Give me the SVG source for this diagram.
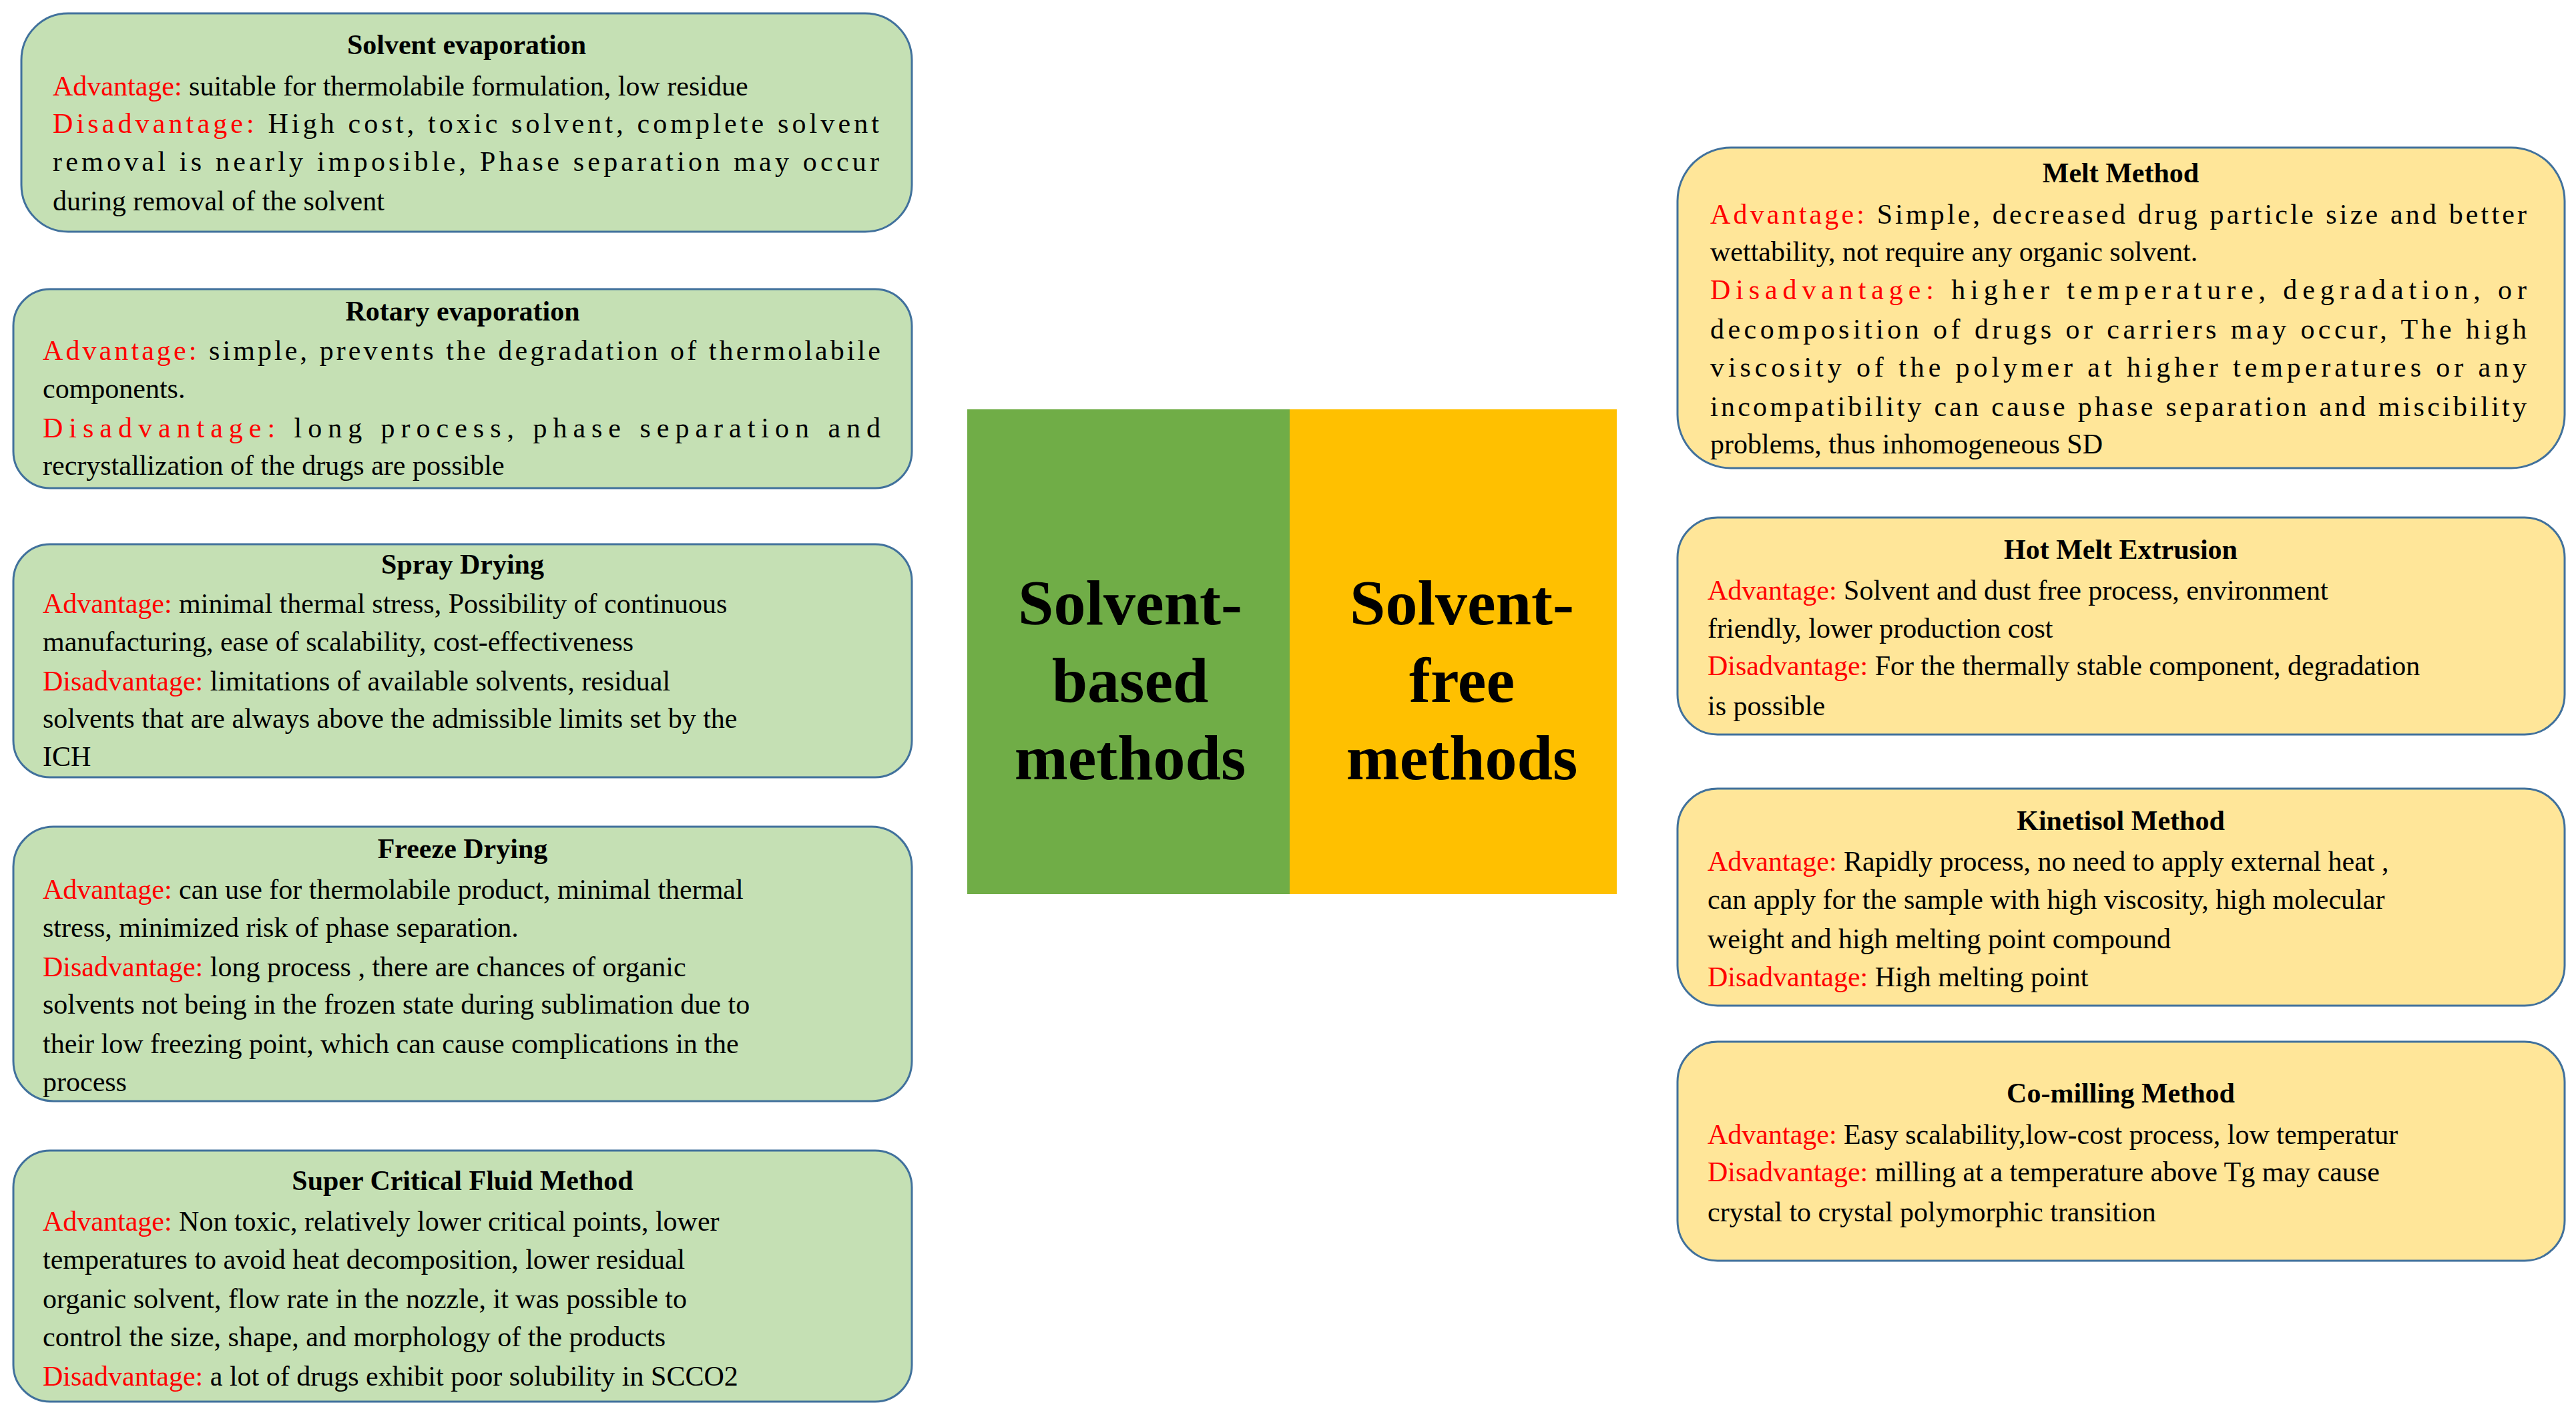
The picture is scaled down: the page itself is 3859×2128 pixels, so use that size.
<svg xmlns="http://www.w3.org/2000/svg" width="3859" height="2128" viewBox="0 0 3859 2128">
<style>
.g{fill:#C5E0B4;stroke:#41719C;stroke-width:3}
.y{fill:#FFE699;stroke:#41719C;stroke-width:3}
text{font-family:"Liberation Serif","Times New Roman",serif;font-size:42px;fill:#000}
.h{font-weight:bold;text-anchor:middle}
.r{fill:#FF0000}
.c{font-weight:bold;font-size:96px;text-anchor:middle}
</style>
<rect width="3859" height="2128" fill="#fff"/>
<g id="center">
<rect x="1449" y="613" width="483" height="726" fill="#70AD47"/>
<rect x="1932" y="613" width="490" height="726" fill="#FFC000"/>
<text class="c" x="1693" y="935">Solvent-</text>
<text class="c" x="1693" y="1051">based</text>
<text class="c" x="1693" y="1167">methods</text>
<text class="c" x="2190" y="935">Solvent-</text>
<text class="c" x="2190" y="1051">free</text>
<text class="c" x="2190" y="1167">methods</text>
</g>
<g id="solvent-evaporation">
<rect class="g" x="32" y="20" width="1334" height="327" rx="70"/>
<text class="h" x="699" y="81">Solvent evaporation</text>
<text x="79" y="143"><tspan class="r">Advantage:</tspan> suitable for thermolabile formulation, low residue</text>
<text x="79" y="199" textLength="1238" lengthAdjust="spacing"><tspan class="r">Disadvantage:</tspan> High cost, toxic solvent, complete solvent</text>
<text x="79" y="256" textLength="1238" lengthAdjust="spacing">removal is nearly imposible, Phase separation may occur</text>
<text x="79" y="315">during removal of the solvent</text>
</g>
<g id="rotary-evaporation">
<rect class="g" x="20" y="433" width="1346" height="298" rx="55"/>
<text class="h" x="693" y="480">Rotary evaporation</text>
<text x="64" y="539" textLength="1255" lengthAdjust="spacing"><tspan class="r">Advantage:</tspan> simple, prevents the degradation of thermolabile</text>
<text x="64" y="596">components.</text>
<text x="64" y="655" textLength="1255" lengthAdjust="spacing"><tspan class="r">Disadvantage:</tspan> long process, phase separation and</text>
<text x="64" y="711">recrystallization of the drugs are possible</text>
</g>
<g id="spray-drying">
<rect class="g" x="20" y="815" width="1346" height="349" rx="55"/>
<text class="h" x="693" y="859">Spray Drying</text>
<text x="64" y="918"><tspan class="r">Advantage:</tspan> minimal thermal stress, Possibility of continuous</text>
<text x="64" y="975">manufacturing, ease of scalability, cost-effectiveness</text>
<text x="64" y="1034"><tspan class="r">Disadvantage:</tspan> limitations of available solvents, residual</text>
<text x="64" y="1090">solvents that are always above the admissible limits set by the</text>
<text x="64" y="1147">ICH</text>
</g>
<g id="freeze-drying">
<rect class="g" x="20" y="1238" width="1346" height="411" rx="60"/>
<text class="h" x="693" y="1285">Freeze Drying</text>
<text x="64" y="1346"><tspan class="r">Advantage:</tspan> can use for thermolabile product, minimal thermal</text>
<text x="64" y="1403">stress, minimized risk of phase separation.</text>
<text x="64" y="1462"><tspan class="r">Disadvantage:</tspan> long process , there are chances of organic</text>
<text x="64" y="1518">solvents not being in the frozen state during sublimation due to</text>
<text x="64" y="1577">their low freezing point, which can cause complications in the</text>
<text x="64" y="1634">process</text>
</g>
<g id="supercritical-fluid">
<rect class="g" x="20" y="1723" width="1346" height="376" rx="55"/>
<text class="h" x="693" y="1782">Super Critical Fluid Method</text>
<text x="64" y="1843"><tspan class="r">Advantage:</tspan> Non toxic, relatively lower critical points, lower</text>
<text x="64" y="1900">temperatures to avoid heat decomposition, lower residual</text>
<text x="64" y="1959">organic solvent, flow rate in the nozzle, it was possible to</text>
<text x="64" y="2016">control the size, shape, and morphology of the products</text>
<text x="64" y="2075"><tspan class="r">Disadvantage:</tspan> a lot of drugs exhibit poor solubility in SCCO2</text>
</g>
<g id="melt-method">
<rect class="y" x="2513" y="221" width="1329" height="480" rx="80"/>
<text class="h" x="3177" y="273">Melt Method</text>
<text x="2562" y="335" textLength="1223" lengthAdjust="spacing"><tspan class="r">Advantage:</tspan> Simple, decreased drug particle size and better</text>
<text x="2562" y="391">wettability, not require any organic solvent.</text>
<text x="2562" y="448" textLength="1223" lengthAdjust="spacing"><tspan class="r">Disadvantage:</tspan> higher temperature, degradation, or</text>
<text x="2562" y="507" textLength="1223" lengthAdjust="spacing">decomposition of drugs or carriers may occur, The high</text>
<text x="2562" y="564" textLength="1223" lengthAdjust="spacing">viscosity of the polymer at higher temperatures or any</text>
<text x="2562" y="623" textLength="1223" lengthAdjust="spacing">incompatibility can cause phase separation and miscibility</text>
<text x="2562" y="679">problems, thus inhomogeneous SD</text>
</g>
<g id="hot-melt-extrusion">
<rect class="y" x="2513" y="775" width="1329" height="325" rx="60"/>
<text class="h" x="3177" y="837">Hot Melt Extrusion</text>
<text x="2558" y="898"><tspan class="r">Advantage:</tspan> Solvent and dust free process, environment</text>
<text x="2558" y="955">friendly, lower production cost</text>
<text x="2558" y="1011"><tspan class="r">Disadvantage:</tspan> For the thermally stable component, degradation</text>
<text x="2558" y="1071">is possible</text>
</g>
<g id="kinetisol-method">
<rect class="y" x="2513" y="1181" width="1329" height="325" rx="60"/>
<text class="h" x="3177" y="1243">Kinetisol Method</text>
<text x="2558" y="1304"><tspan class="r">Advantage:</tspan> Rapidly process, no need to apply external heat ,</text>
<text x="2558" y="1361">can apply for the sample with high viscosity, high molecular</text>
<text x="2558" y="1420">weight and high melting point compound</text>
<text x="2558" y="1477"><tspan class="r">Disadvantage:</tspan> High melting point</text>
</g>
<g id="co-milling-method">
<rect class="y" x="2513" y="1560" width="1329" height="328" rx="60"/>
<text class="h" x="3177" y="1651">Co-milling Method</text>
<text x="2558" y="1713"><tspan class="r">Advantage:</tspan> Easy scalability,low-cost process, low temperatur</text>
<text x="2558" y="1769"><tspan class="r">Disadvantage:</tspan> milling at a temperature above Tg may cause</text>
<text x="2558" y="1829">crystal to crystal polymorphic transition</text>
</g>
<g id="connectors"/>
</svg>
